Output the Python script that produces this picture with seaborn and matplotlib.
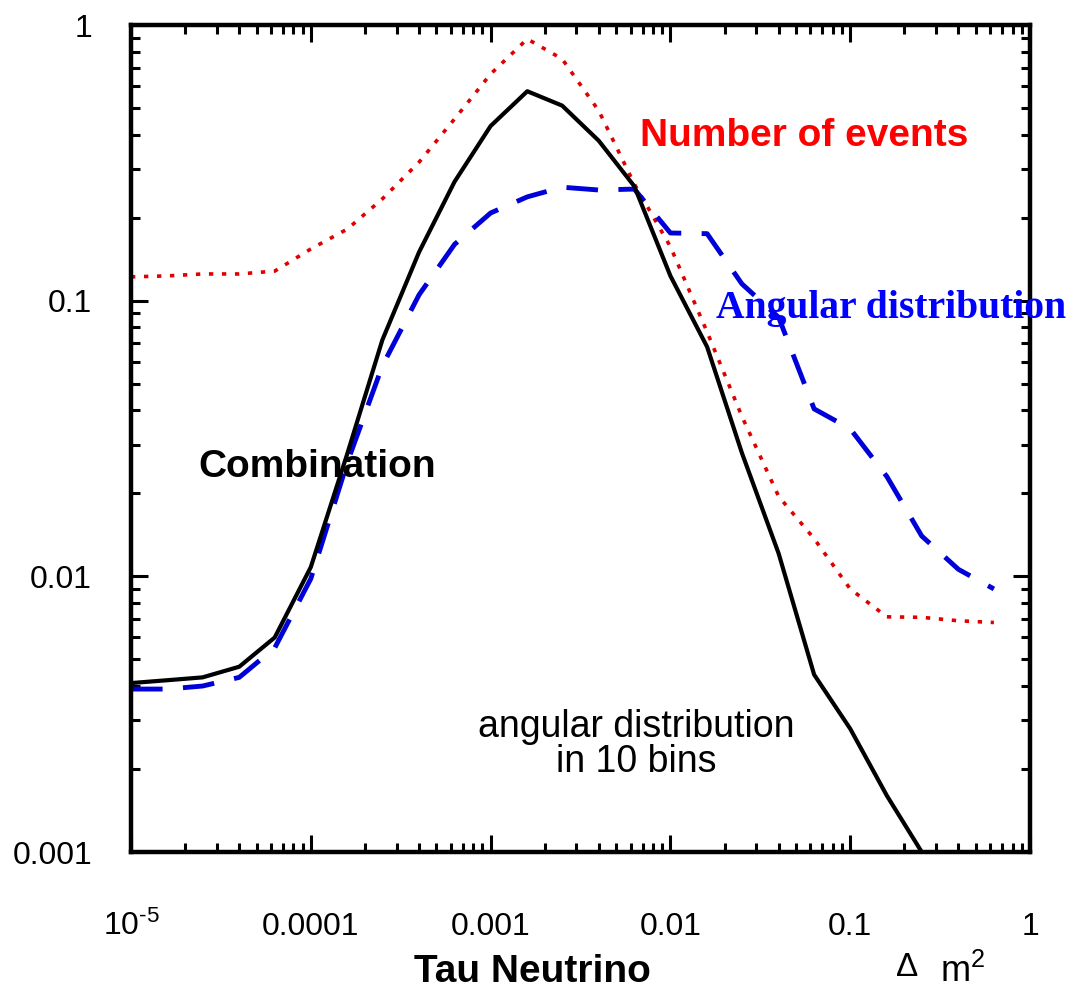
import numpy as np
import pandas as pd
import matplotlib
matplotlib.use("Agg")
import matplotlib.pyplot as plt
import matplotlib.ticker as mticker
import seaborn as sns

# ---------------- data ----------------
dm2 = [1e-5, 1.6e-5, 2.5e-5, 4e-5, 6.3e-5, 1e-4, 1.6e-4, 2.5e-4, 4e-4, 6.3e-4,
       1e-3, 1.6e-3, 2.5e-3, 4e-3, 6.3e-3, 1e-2, 1.6e-2, 2.5e-2, 4e-2, 6.3e-2,
       0.1, 0.16, 0.25, 0.4, 0.63]

combination = [0.0041, 0.0042, 0.0043, 0.0047, 0.0060, 0.0108, 0.028, 0.072, 0.15, 0.27,
               0.43, 0.575, 0.51, 0.38, 0.26, 0.123, 0.068, 0.028, 0.0121, 0.0044,
               0.0028, 0.0016, 0.001]

angular = [0.0039, 0.0039, 0.0040, 0.0043, 0.0055, 0.0098, 0.026, 0.058, 0.105, 0.16,
           0.208, 0.238, 0.258, 0.252, 0.254, 0.176, 0.175, 0.115, 0.087, 0.0405,
           0.0343, 0.023, 0.014, 0.0106, 0.0090]

events = [0.122, 0.123, 0.125, 0.125, 0.128, 0.154, 0.182, 0.234, 0.318, 0.456,
          0.664, 0.89, 0.753, 0.488, 0.265, 0.157, 0.077, 0.038, 0.0195, 0.0137,
          0.009, 0.00713, 0.0071, 0.0069, 0.0068]

x_ticks = [1e-5, 1e-4, 1e-3, 1e-2, 1e-1, 1]
x_ticklabels = [r"$\mathregular{10^{\text{-}5}}$", "0.0001", "0.001", "0.01", "0.1", "1"]
y_ticks = [0.001, 0.01, 0.1, 1]
y_ticklabels = ["0.001", "0.01", "0.1", "1"]

# ---------------- style ----------------
sns.set_style("ticks")
plt.rcParams["font.family"] = ["Liberation Sans", "DejaVu Sans"]
plt.rcParams["mathtext.fontset"] = "custom"
plt.rcParams["mathtext.rm"] = "Liberation Sans"
plt.rcParams["mathtext.it"] = "Liberation Sans"
plt.rcParams["text.color"] = "black"

W, H = 1066, 992
fig = plt.figure(figsize=(W / 100, H / 100), dpi=100)
ax = fig.add_axes([131 / W, (H - 852) / H, 899 / W, 827 / H])

df_c = pd.DataFrame({"x": dm2[:len(combination)], "y": combination})
df_a = pd.DataFrame({"x": dm2[:len(angular)], "y": angular})
df_e = pd.DataFrame({"x": dm2[:len(events)], "y": events})

sns.lineplot(data=df_e, x="x", y="y", ax=ax, color="#e00000", lw=2.6,
             linestyle=(0, (1.2, 2.4)), estimator=None)
sns.lineplot(data=df_a, x="x", y="y", ax=ax, color="#0000d8", lw=3.5,
             linestyle=(0, (6.5, 4.2)), estimator=None)
sns.lineplot(data=df_c, x="x", y="y", ax=ax, color="black", lw=3.0,
             estimator=None)

ax.set_xscale("log")
ax.set_yscale("log")
ax.set_xlim(1e-5, 1)
ax.set_ylim(1e-3, 1)

ax.xaxis.set_major_locator(mticker.FixedLocator(x_ticks))
ax.xaxis.set_major_formatter(mticker.FixedFormatter(x_ticklabels))
ax.yaxis.set_major_locator(mticker.FixedLocator(y_ticks))
ax.yaxis.set_major_formatter(mticker.FixedFormatter(y_ticklabels))
ax.xaxis.set_minor_locator(mticker.LogLocator(base=10, subs=np.arange(2, 10), numticks=20))
ax.yaxis.set_minor_locator(mticker.LogLocator(base=10, subs=np.arange(2, 10), numticks=20))
ax.xaxis.set_minor_formatter(mticker.NullFormatter())
ax.yaxis.set_minor_formatter(mticker.NullFormatter())

ax.tick_params(which="both", direction="in", top=True, right=True, color="black",
               labelcolor="black")
ax.tick_params(which="major", length=12, width=2.2, labelsize=23)
ax.tick_params(which="minor", length=6.5, width=2.2)
ax.tick_params(axis="x", which="major", pad=60)
ax.tick_params(axis="y", which="major", pad=28)
for lab in ax.get_xticklabels():
    lab.set_verticalalignment("baseline")

for s in ax.spines.values():
    s.set_linewidth(3.2)
    s.set_color("black")
    s.set_zorder(5)

ax.set_xlabel("")
ax.set_ylabel("")

# ---------------- annotations ----------------
def fx(px):
    return px / W

def fy(py):
    return 1 - py / H

fig.text(fx(640), fy(146), "Number of events", color="#ff0000", fontsize=28,
         fontweight="bold", ha="left", va="baseline")
fig.text(fx(716), fy(318), "Angular distribution", color="#0000ff", fontsize=28.5,
         fontweight="bold", family=["Liberation Serif", "DejaVu Serif"],
         ha="left", va="baseline")
fig.text(fx(198), fy(477), "Combination", color="black", fontsize=28,
         fontweight="bold", ha="left", va="baseline")
fig.text(fx(636), fy(772), "angular distribution\nin 10 bins", color="black",
         fontsize=27, ha="center", va="baseline", multialignment="center",
         linespacing=0.95)
fig.text(fx(532), fy(982), "Tau Neutrino", color="black", fontsize=28,
         fontweight="bold", ha="center", va="baseline")
fig.text(fx(907), fy(976), "Δ", color="black", fontsize=24, ha="center",
         va="baseline")
fig.text(fx(940), fy(982), r"$\mathregular{m^2}$", color="black", fontsize=26,
         ha="left", va="baseline")

fig.savefig("out.png", dpi=100)
